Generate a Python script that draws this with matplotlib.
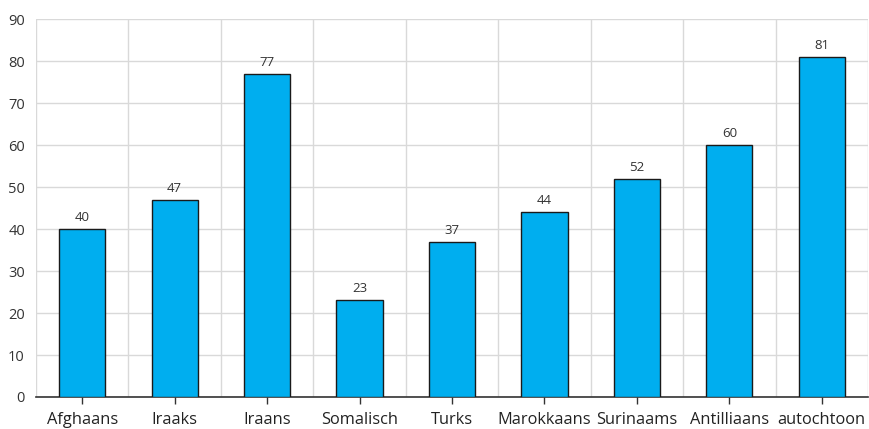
import numpy as np
import matplotlib
matplotlib.use('Agg')
import matplotlib.pyplot as plt
from matplotlib.ticker import MultipleLocator

plt.rcParams['font.family'] = ['Open Sans', 'DejaVu Sans']

# data
groups = ['Afghaans', 'Iraaks', 'Iraans', 'Somalisch', 'Turks',
          'Marokkaans', 'Surinaams', 'Antilliaans', 'autochtoon']
values = [40, 47, 77, 23, 37, 44, 52, 60, 81]

fig = plt.figure(figsize=(8.7, 4.29), dpi=100)
ax = fig.add_axes([0.0414, 0.0746, 0.9563, 0.881])

x = np.arange(len(groups))
ax.bar(x, values, width=0.5, color='#00aeef', edgecolor='#1a1a1a',
       linewidth=1.0, zorder=3)

for xi, v in zip(x, values):
    ax.text(xi, v + 1.2, str(v), ha='center', va='bottom',
            fontsize=9.5, color='#333333')

ax.set_xlim(-0.5, len(groups) - 0.5)
ax.set_ylim(0, 90)
ax.yaxis.set_major_locator(MultipleLocator(10))
ax.set_xticks(x)
ax.set_xticklabels(groups, fontsize=11.8, color='#222222')
ax.tick_params(axis='y', length=0, labelsize=10.5, colors='#333333', pad=8)
ax.tick_params(axis='x', length=5, width=1, color='#333333', pad=6)

# vertical grid at category boundaries
for b in np.arange(-0.5, len(groups), 1.0):
    ax.axvline(b, color='#d9d9d9', linewidth=1, zorder=0)
ax.yaxis.grid(True, color='#d9d9d9', linewidth=1, zorder=0)
ax.set_axisbelow(True)

for s in ['left', 'right', 'top']:
    ax.spines[s].set_visible(False)
ax.spines['bottom'].set_color('#333333')
ax.spines['bottom'].set_linewidth(1.2)

fig.savefig('out.png', dpi=100)
